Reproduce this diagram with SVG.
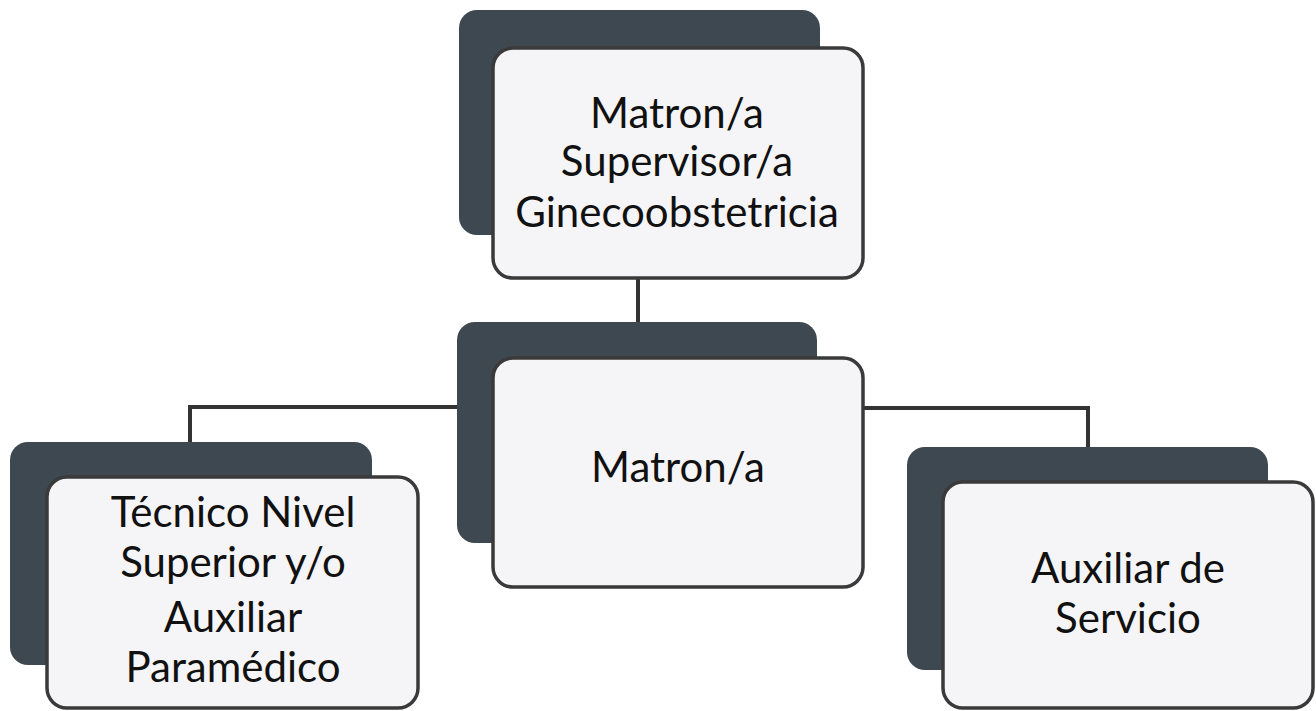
<svg xmlns="http://www.w3.org/2000/svg" width="1316" height="711" viewBox="0 0 1316 711">
<style>
.back{fill:#3e4851;}
.front{fill:#f5f5f7;stroke:#3a3a3a;stroke-width:3.5;}
.lbl{font-family:Lato,"Open Sans",sans-serif;font-size:42px;fill:#111;text-anchor:middle;}
.conn{fill:none;stroke:#333;stroke-width:4;}
</style>
<rect width="1316" height="711" fill="#ffffff"/>
<g id="connectors">
<path class="conn" d="M638,278 V322"/>
<path class="conn" d="M457,407 H190 V442"/>
<path class="conn" d="M863,408 H1088 V447"/>
</g>
<g id="n-top">
<rect class="back" x="459" y="10" width="361" height="225" rx="18"/>
<rect class="front" x="493" y="48" width="370" height="230" rx="20"/>
<text class="lbl" x="677" y="128">Matron/a</text>
<text class="lbl" x="677" y="176">Supervisor/a</text>
<text class="lbl" x="677" y="227">Ginecoobstetricia</text>
</g>
<g id="n-mid">
<rect class="back" x="457" y="322" width="360" height="221" rx="18"/>
<rect class="front" x="493" y="358" width="370" height="229" rx="20"/>
<text class="lbl" x="678" y="482">Matron/a</text>
</g>
<g id="n-left">
<rect class="back" x="10" y="442" width="362" height="223" rx="18"/>
<rect class="front" x="47" y="477" width="371" height="231" rx="20"/>
<text class="lbl" x="233" y="527">Técnico Nivel</text>
<text class="lbl" x="233" y="577">Superior y/o</text>
<text class="lbl" x="233" y="632">Auxiliar</text>
<text class="lbl" x="233" y="682">Paramédico</text>
</g>
<g id="n-right">
<rect class="back" x="907" y="447" width="361" height="223" rx="18"/>
<rect class="front" x="943" y="482" width="370" height="226" rx="20"/>
<text class="lbl" x="1128" y="583">Auxiliar de</text>
<text class="lbl" x="1128" y="633">Servicio</text>
</g>
</svg>
